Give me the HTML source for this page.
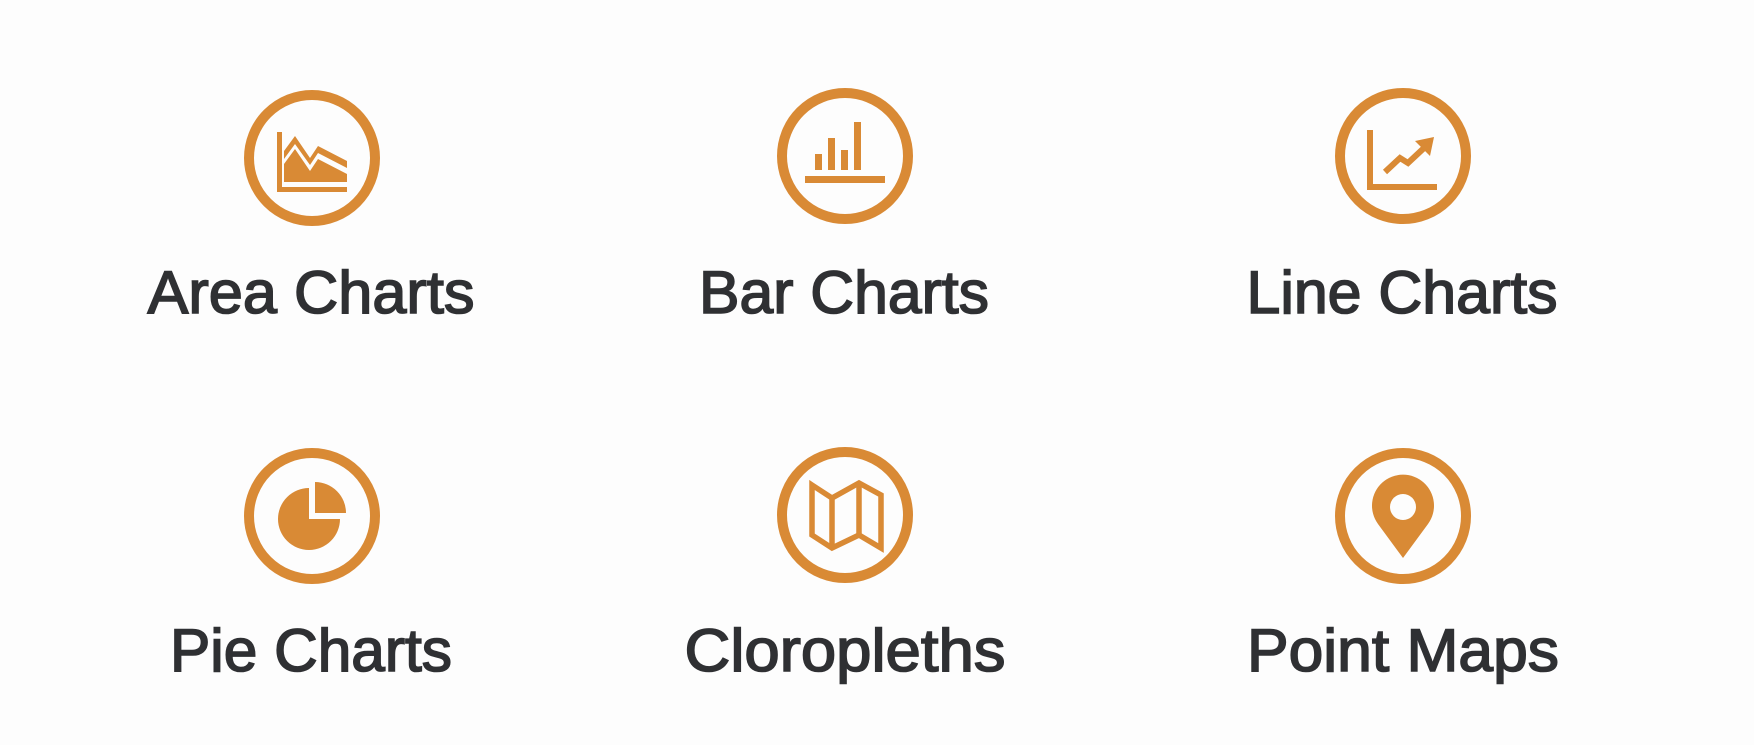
<!DOCTYPE html>
<html><head><meta charset="utf-8"><style>
html,body{margin:0;padding:0;background:#fdfdfd;}
svg{display:block}
text{font-family:"Liberation Sans",sans-serif;font-weight:normal;fill:#2f3033;stroke:#2f3033;stroke-width:1.6px;}
</style></head><body>
<svg width="1754" height="745" viewBox="0 0 1754 745">
<rect width="1754" height="745" fill="#fdfdfd"/>
<g fill="none" stroke="#d98a35" stroke-width="10">
 <circle cx="312" cy="158" r="63"/>
 <circle cx="845" cy="156" r="63"/>
 <circle cx="1403" cy="156" r="63"/>
 <circle cx="312" cy="516" r="63"/>
 <circle cx="845" cy="515" r="63"/>
 <circle cx="1403" cy="516" r="63"/>
</g>
<g transform="translate(312,158)" fill="#d98a35">
 <rect x="-35" y="-26" width="5" height="60"/>
 <rect x="-35" y="29" width="70" height="5"/>
 <path d="M-28,-7 L-17,-22 L-2,0 L6,-12 L35,3 L35,10 L6,-5 L-2,7 L-17,-14 L-28,1Z"/>
 <path d="M-28,6 L-17,-9 L-2,13 L6,1 L35,16 L35,24 L-28,24Z"/>
</g>
<g transform="translate(845,156)" fill="#d98a35">
 <rect x="-40" y="20" width="80" height="7"/>
 <rect x="-30" y="-2" width="7" height="16"/>
 <rect x="-17" y="-18" width="7" height="32"/>
 <rect x="-4" y="-6" width="7" height="20"/>
 <rect x="9" y="-34" width="7" height="48"/>
</g>
<g transform="translate(1403,156)">
 <path d="M-33,-26 V31 H34" fill="none" stroke="#d98a35" stroke-width="6"/>
 <path d="M-18,16 L-3,2 L5,7 L21,-8" fill="none" stroke="#d98a35" stroke-width="6"/>
 <path d="M31,-19 L12,-15 L27,0Z" fill="#d98a35"/>
</g>
<g transform="translate(312,516)" fill="#d98a35">
 <path d="M-3,-28 A31,31 0 1 0 28,3 L-3,3Z"/>
 <path d="M3,-34 A31,31 0 0 1 34,-3 L3,-3Z"/>
</g>
<g transform="translate(845,515)" fill="none" stroke="#d98a35" stroke-width="5.5">
 <path d="M-33,-30 L-13,-17 L14,-32 L36,-20 L36,33 L14,20 L-13,33 L-33,20Z"/>
 <path d="M-13,-17 V33 M14,-32 V20"/>
</g>
<g transform="translate(1403,516)">
 <path d="M0,42 L-25,8 A31,31 0 1 1 25,8Z" fill="#d98a35"/>
 <circle cx="0" cy="-9" r="13" fill="#fdfdfd"/>
</g>
<text x="311" y="313" font-size="60" text-anchor="middle" textLength="327" lengthAdjust="spacingAndGlyphs">Area Charts</text>
<text x="844" y="313" font-size="60" text-anchor="middle" textLength="290" lengthAdjust="spacingAndGlyphs">Bar Charts</text>
<text x="1402" y="313" font-size="60" text-anchor="middle" textLength="311" lengthAdjust="spacingAndGlyphs">Line Charts</text>
<text x="311" y="671" font-size="60" text-anchor="middle" textLength="282" lengthAdjust="spacingAndGlyphs">Pie Charts</text>
<text x="845" y="671" font-size="60" text-anchor="middle" textLength="321" lengthAdjust="spacingAndGlyphs">Cloropleths</text>
<text x="1403" y="671" font-size="60" text-anchor="middle" textLength="312" lengthAdjust="spacingAndGlyphs">Point Maps</text>
</svg>
</body></html>
